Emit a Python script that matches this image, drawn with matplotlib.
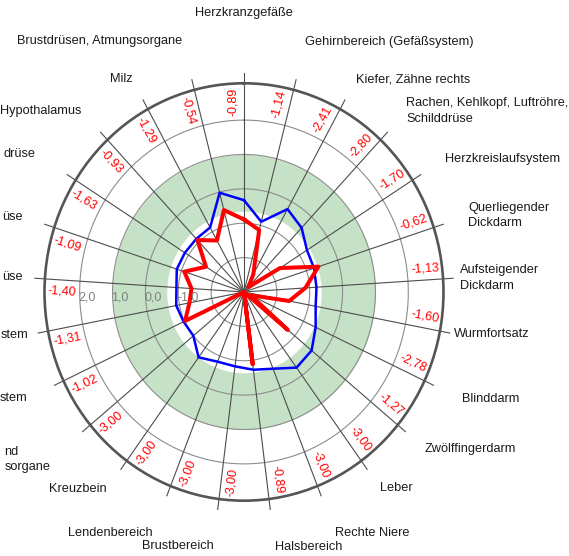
import numpy as np
import matplotlib.pyplot as plt

plt.rcParams['font.family'] = ['Liberation Sans', 'DejaVu Sans']

# categories clockwise from the top (left ones are cut off in the original)
organs = ['Herzkranzgefäße', 'Gehirnbereich (Gefäßsystem)', 'Kiefer, Zähne rechts',
          'Rachen, Kehlkopf, Luftröhre,\nSchilddrüse', 'Herzkreislaufsystem',
          'Querliegender\nDickdarm', 'Aufsteigender\nDickdarm', 'Wurmfortsatz',
          'Blinddarm', 'Zwölffingerdarm', 'Leber', 'Rechte Niere', 'Halsbereich',
          'Brustbereich', 'Lendenbereich', 'Kreuzbein', 'nd\nsorgane', 'stem',
          'stem', 'üse', 'üse', 'drüse', 'Hypothalamus', 'Milz',
          'Brustdrüsen, Atmungsorgane']
messwert = [-0.89, -1.14, -2.41, -2.80, -1.70, -0.62, -1.13, -1.60, -2.78, -1.27,
            -3.00, -3.00, -0.89, -3.00, -3.00, -3.00, -3.00, -1.02, -1.31, -1.40,
            -1.09, -1.63, -0.93, -1.29, -0.54]
vergleich = [-0.33, -0.89, -0.25, -0.44, -0.73, -0.76, -0.79, -0.78, -0.59, -0.33,
             -0.28, -0.60, -0.72, -0.82, -0.82, -0.65, -1.00, -0.97, -0.90, -0.94,
             -0.85, -0.87, -0.88, -0.86, -0.02]
norm_lo, norm_hi = -0.65, 1.0
r_grid = [-2, -1, 0, 1, 2]
r_labels = [2.0, 1.0, 0.0, -1.0]

# distance of each category label from the centre, in pixels (layout only)
label_dist = [261, 247, 232, 237, 238, 236, 216, 214, 241, 235, 232, 248, 246,
              245, 248, 233, 251, 239, 220, 222, 233, 247, 237, 232, 248]

n = len(organs)
theta = np.arange(n) * 2 * np.pi / n
rmin, rmax = -3.0, 3.07
px = 199.5 / (rmax - rmin)  # pixels per unit (horizontal)

fig = plt.figure(figsize=(5.69, 5.56), dpi=100)
ax = fig.add_axes([0.0782, 0.0995, 0.7012, 0.7507], projection='polar')
ax.set_aspect('auto')
ax.set_theta_zero_location('N')
ax.set_theta_direction(-1)
ax.set_ylim(rmin, rmax)
ax.set_xticks([])
ax.set_yticks([])
ax.grid(False)
ax.spines['polar'].set_color('#555555')
ax.spines['polar'].set_linewidth(1.9)

fine = np.linspace(0, 2 * np.pi, 361)
ax.fill_between(fine, norm_lo, norm_hi, color='#c6e2c6', lw=0, zorder=1)
for v in r_grid:
    ax.plot(fine, np.full_like(fine, v), color='#8c8c8c', lw=0.8, zorder=2)
for t in theta:
    ax.plot([t, t], [rmin, rmax + 10 / px], color='#4d4d4d', lw=0.8, zorder=2,
            clip_on=False)

tc = np.append(theta, theta[0])
ax.plot(tc, vergleich + vergleich[:1], color='#0000ff', lw=1.8, zorder=4)
ax.plot(tc, messwert + messwert[:1], color='#ff0000', lw=2.9, zorder=5)

# red value labels along the spokes
for t, v in zip(theta, messwert):
    deg = np.degrees(t)
    rot = 90 - deg if deg < 180 else 270 - deg
    ax.text(t - np.radians(3.5), 2.55, f'{v:.2f}'.replace('.', ','), color='#ff0000',
            fontsize=9, rotation=rot, rotation_mode='anchor', ha='center', va='center',
            zorder=6)

# category labels
for t, name, d in zip(theta, organs, label_dist):
    s, c = np.sin(t), np.cos(t)
    va = 'center'
    if s > 0.05:
        ha = 'left'
    elif s < -0.05:
        ha = 'right'
    else:
        ha = 'center'
        va = 'bottom' if c > 0 else 'top'
    ax.text(t, rmin + d / px, name, ha=ha, va=va, fontsize=9.2, color='#1a1a1a',
            multialignment='left', linespacing=1.4)

# radial scale labels on the left
for v in r_labels:
    ax.text(np.radians(270), v + 0.03, f'{v:.1f}'.replace('.', ','), color='#808080',
            fontsize=9, ha='left', va='top', zorder=6)

fig.savefig('out.png', dpi=100)
